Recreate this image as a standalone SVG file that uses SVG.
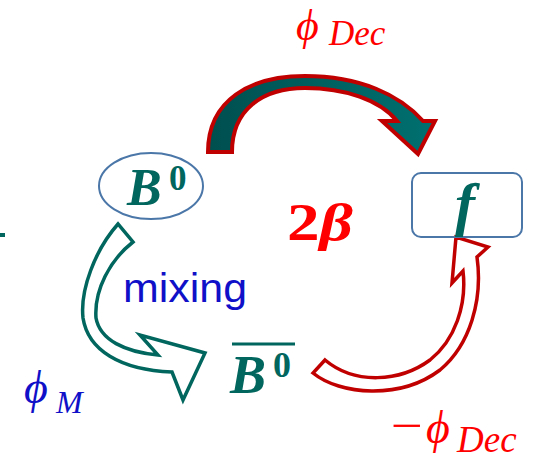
<svg xmlns="http://www.w3.org/2000/svg" width="539" height="461" viewBox="0 0 539 461">
<defs>
<linearGradient id="tealGrad" x1="0" y1="0" x2="1" y2="0">
<stop offset="0" stop-color="#004F4F"/>
<stop offset="1" stop-color="#007070"/>
</linearGradient>
</defs>
<style>
.node{fill:none;stroke:#4A76A8;stroke-width:2}
.math{font-family:"Liberation Serif",serif;font-style:italic}
.teal{fill:#00665E}
.red{fill:#FF0000}
.blue{fill:#1010C8}
</style>
<rect x="0" y="233" width="5" height="4" fill="#00665E"/>
<g id="connectors">
<path id="decay" d="M208,152 C208,100 250,76 305,76 C360,76 400,95 423,121 L435,121 L418,154 L382,121 L397,121 C380,100 345,88 305,88 C262,88 232,110 232,152 Z" fill="url(#tealGrad)" stroke="#C00000" stroke-width="4" stroke-linejoin="miter"/>
<path id="mixing-arrow" d="M118,224 C95,250 80,290 83,318 C88,350 120,370 172,372 L183,400 L205,353 L140,335 L158,355 C125,352 100,340 96,318 C94,290 110,260 133,242 Z" fill="#FFFFFF" stroke="#00665E" stroke-width="3.5" stroke-linejoin="miter"/>
<path id="decay-bar" d="M313,373 C340,395 400,400 440,370 C470,345 483,300 477,257 L488,247 L456,237 L452,283 L463,271 C467,305 455,340 430,360 C400,382 355,385 325,360 Z" fill="#FFFFFF" stroke="#C00000" stroke-width="3.5" stroke-linejoin="miter"/>
</g>
<g id="node-B0">
<ellipse class="node" cx="151" cy="186" rx="52" ry="33"/>
<text class="math teal" x="127" y="205" font-size="52" font-weight="bold">B</text>
<text class="teal" x="169" y="190" font-size="35" font-weight="bold" font-family="Liberation Serif,serif">0</text>
</g>
<g id="node-B0bar">
<line x1="232" y1="344" x2="295" y2="344" stroke="#00665E" stroke-width="3"/>
<text class="math teal" x="230" y="393" font-size="54" font-weight="bold">B</text>
<text class="teal" x="273" y="377" font-size="36" font-weight="bold" font-family="Liberation Serif,serif">0</text>
</g>
<g id="node-f">
<rect class="node" x="412" y="173" width="110" height="64" rx="9"/>
<text class="math teal" x="465" y="224" font-size="60" font-weight="bold" text-anchor="middle">f</text>
</g>
<g id="labels">
<text class="math red" font-size="44"><tspan x="296" y="40">ϕ</tspan><tspan x="329" y="45" font-size="35">Dec</tspan></text>
<text class="math blue" font-size="46"><tspan x="24" y="403">ϕ</tspan><tspan x="56" y="413" font-size="32">M</tspan></text>
<text class="math red" font-size="46"><tspan x="391" y="441" font-style="normal" textLength="32" lengthAdjust="spacingAndGlyphs">−</tspan><tspan x="426" y="443">ϕ</tspan><tspan x="457" y="452" font-size="37">Dec</tspan></text>
<text class="red" x="287" y="240" font-size="52" font-weight="bold" font-family="Liberation Serif,serif" textLength="66" lengthAdjust="spacingAndGlyphs">2<tspan font-style="italic">β</tspan></text>
<text class="blue" x="123" y="302" font-size="41" font-family="Liberation Sans,Arial,sans-serif" textLength="124" lengthAdjust="spacingAndGlyphs">mixing</text>
</g>
</svg>
